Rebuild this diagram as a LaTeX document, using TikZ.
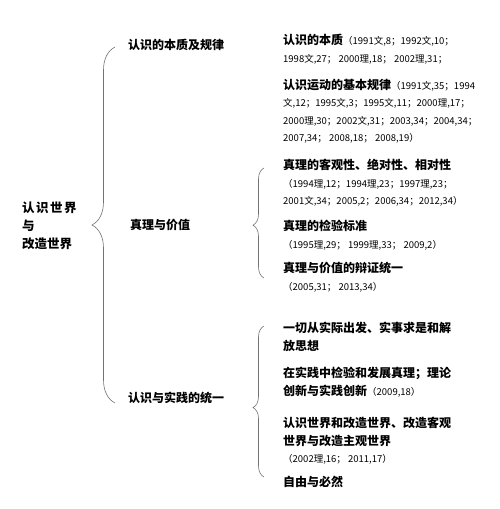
\documentclass[tikz,border=0pt]{standalone}
\usepackage{fontspec}
\usepackage{tikz}
\usetikzlibrary{decorations.pathreplacing,positioning}

\newfontfamily\cjk{Noto Sans CJK SC}
\newcommand\src[1]{{\fontsize{9.5}{17.5}\selectfont\mdseries #1}}

\begin{document}
\begin{tikzpicture}[x=1pt, y=-1pt,
    every node/.style={inner sep=0pt, font=\cjk},
    root/.style={anchor=west, align=left, font=\cjk\bfseries\fontsize{12.5}{18}\selectfont},
    topic/.style={anchor=west, font=\cjk\bfseries\fontsize{12}{17.5}\selectfont},
    item/.style={anchor=north west, align=left, font=\cjk\bfseries\fontsize{12}{17.5}\selectfont},
    curly/.style={decorate, decoration={brace, amplitude=#1}, draw=black!55, line width=0.6pt},
]
    \useasboundingbox (0,0) rectangle (500,509);

    % root and first level
    \node[root] (world) at (22,226) {认\hspace{1.5pt}识\hspace{1.5pt}世\hspace{1.5pt}界\\与\\改造世界};
    \node[topic] (essence) at (128,45) {认识的本质及规律};
    \node[topic] (truth) at (130,225) {真理与价值};
    \node[topic] (unity) at (128,398) {认识与实践的统一};

    % second level
    \node[item] (nature) at (283,34) {认识的本质\src{（1991文,8；1992文,10；}\\
        \src{1998文,27； 2000理,18； 2002理,31；}};
    \node[item] (law) at (283,79) {认识运动的基本规律\src{（1991文,35；1994}\\
        \src{文,12；1995文,3；1995文,11；2000理,17；}\\
        \src{2000理,30；2002文,31；2003,34；2004,34；}\\
        \src{2007,34； 2008,18； 2008,19）}};
    \node[item] (objective) at (283,159) {真理的客观性、绝对性、相对性\\
        \src{（1994理,12；1994理,23；1997理,23；}\\
        \src{2001文,34；2005,2；2006,34；2012,34）}};
    \node[item] (criterion) at (283,220) {真理的检验标准\\
        \src{（1995理,29； 1999理,33； 2009,2）}};
    \node[item] (value) at (283,262) {真理与价值的辩证统一\\
        \src{（2005,31； 2013,34）}};
    \node[item] (reality) at (283,322) {一切从实际出发、实事求是和解\\放思想};
    \node[item] (practice) at (283,367) {在实践中检验和发展真理；理论\\
        创新与实践创新\src{（2009,18）}};
    \node[item] (change) at (283,417) {认识世界和改造世界、改造客观\\
        世界与改造主观世界\\
        \src{（2002理,16； 2011,17）}};
    \node[item] (freedom) at (283,476) {自由与必然};

    % braces
    \coordinate (bigtop) at (115,47);
    \coordinate (bigbot) at (115,403);
    \coordinate (truthtop) at (264,168);
    \coordinate (truthbot) at (264,278);
    \coordinate (unitytop) at (264,326);
    \coordinate (unitybot) at (264,477);

    \draw[curly=23pt] (bigbot) -- (bigtop);
    \draw[curly=11pt, decoration={aspect=0.48}] (truthbot) -- (truthtop);
    \draw[curly=11pt, decoration={aspect=0.46}] (unitybot) -- (unitytop);
\end{tikzpicture}
\end{document}
